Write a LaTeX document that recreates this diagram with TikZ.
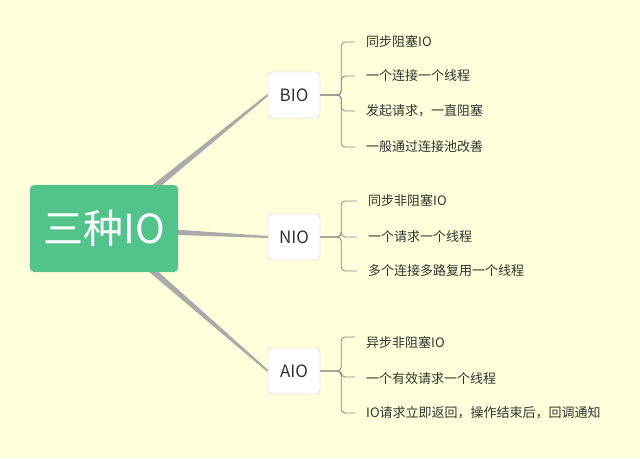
\documentclass[tikz,border=0pt]{standalone}
\usepackage{fontspec}
\setmainfont{Noto Sans CJK SC}
\usetikzlibrary{calc, positioning, backgrounds}
\definecolor{paper}{HTML}{FFFFDC}
\definecolor{topicgreen}{HTML}{52C48B}
\definecolor{limbgray}{HTML}{AAAAAA}
\definecolor{twiggray}{HTML}{8C8C8C}
\definecolor{inkgray}{HTML}{333333}

\begin{document}
\begin{tikzpicture}[x=1pt, y=-1pt]
    \tikzstyle{root} = [fill=topicgreen, rounded corners=4pt, minimum width=148pt,
	minimum height=87pt, inner sep=0pt, text=white, font=\fontsize{40}{40}\selectfont]
    \tikzstyle{format} = [draw=black!22, fill=white, rounded corners=4pt, minimum width=52pt,
	minimum height=46pt, inner sep=0pt, text=inkgray, font=\fontsize{17}{17}\selectfont]
    \tikzstyle{leaf} = [anchor=west, inner sep=0pt, text=inkgray, font=\fontsize{13}{13}\selectfont]
    \tikzstyle{twig} = [draw=twiggray, line width=0.9pt, rounded corners=4pt]

		\path
			node[root] (io) at (104,228.5) {三种IO}
			node[format] (bio) at (294,95) {BIO}
			node[format] (nio) at (294,237) {NIO}
			node[format] (aio) at (294,371) {AIO}

			node[leaf] (b1) at (366,42) {同步阻塞IO}
			node[leaf] (b2) at (366,76) {一个连接一个线程}
			node[leaf] (b3) at (366,111) {发起请求，一直阻塞}
			node[leaf] (b4) at (366,147) {一般通过连接池改善}
			node[leaf] (n1) at (368,201) {同步非阻塞IO}
			node[leaf] (n2) at (368,237) {一个请求一个线程}
			node[leaf] (n3) at (368,271) {多个连接多路复用一个线程}
			node[leaf] (a1) at (366,343) {异步非阻塞IO}
			node[leaf] (a2) at (366,379) {一个有效请求一个线程}
			node[leaf] (a3) at (366,413) {IO请求立即返回，操作结束后，回调通知}
		;

    % paper and tapered main branches
    \begin{scope}[on background layer]
      \fill[paper] (0,0) rectangle (640,458);
      \foreach \t in {bio, nio, aio}
        \fill[limbgray] ($(io.center)!4pt!90:(\t.west)$) -- ($(\t.west)!1pt!-90:(io.center)$)
          -- ($(\t.west)!1pt!90:(io.center)$) -- ($(io.center)!4pt!-90:(\t.west)$) -- cycle;
    \end{scope}

    % sub branches
    \foreach \t/\l/\d in {bio/b1/0, bio/b2/0, bio/b3/0, bio/b4/0,
                          nio/n1/0, nio/n2/0, nio/n3/0,
                          aio/a1/-6, aio/a2/-2, aio/a3/0}
      \draw[twig] (\t.east) -- ++(21,0) |- ($(\l.west)+(-11,\d)$);

\end{tikzpicture}
\end{document}
